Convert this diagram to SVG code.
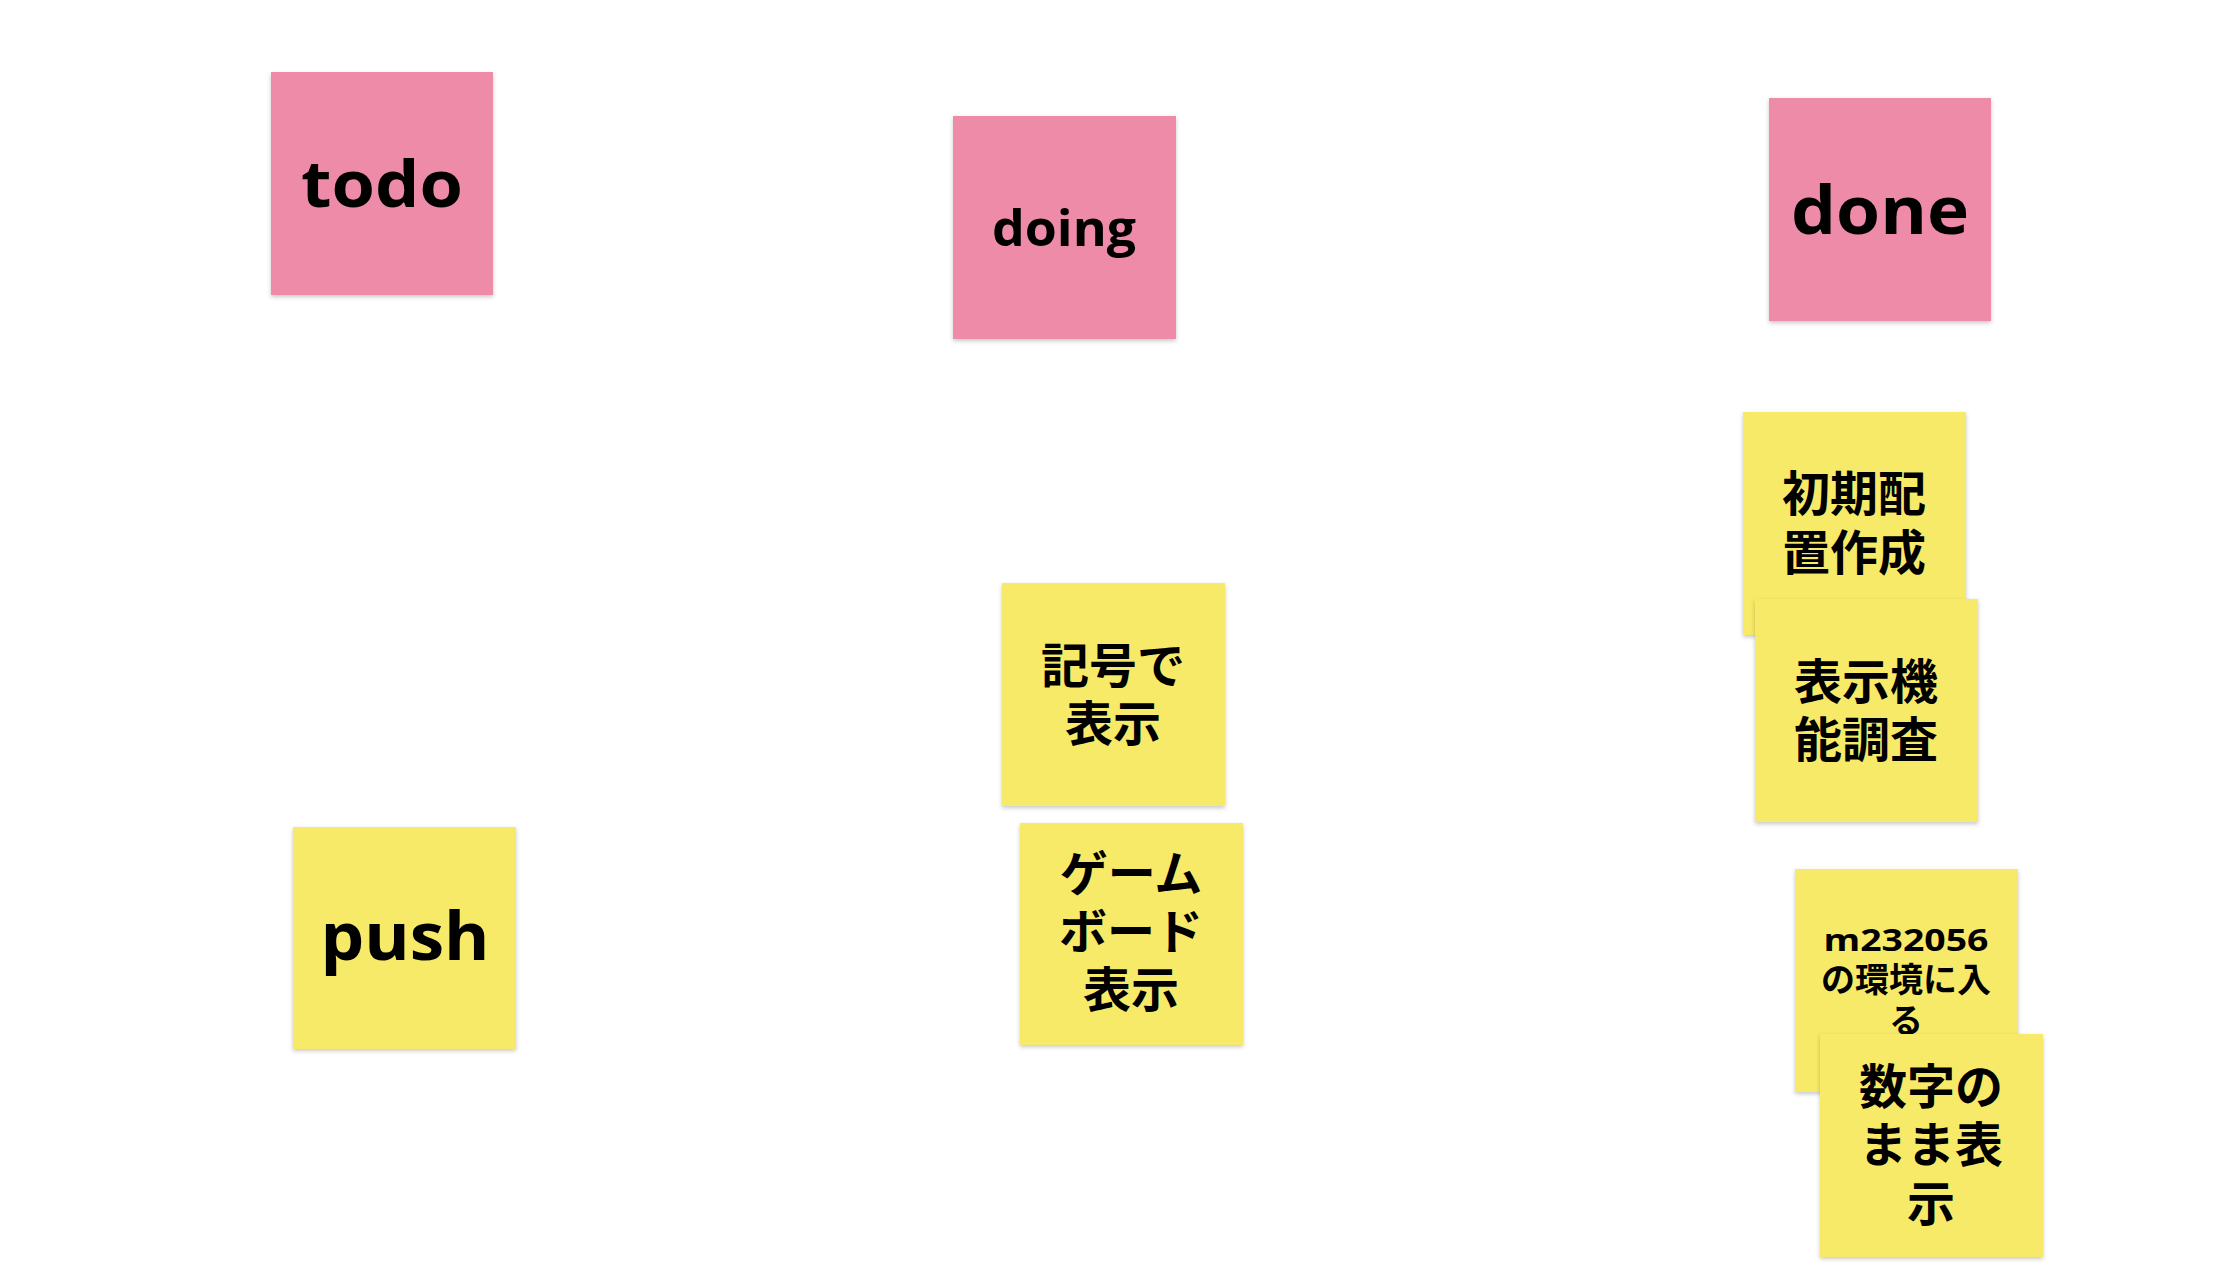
<svg xmlns="http://www.w3.org/2000/svg" width="2217" height="1265" viewBox="0 0 2217 1265">
<style>
.pink{fill:#EE8BA9;filter:url(#sh);}
.yel{fill:#F7EA67;filter:url(#sh);}
.lat{font-family:"Open Sans","Liberation Sans",sans-serif;font-weight:700;fill:#000;text-anchor:middle;}
.jp{font-family:"Noto Sans CJK JP",sans-serif;font-weight:700;fill:#000;text-anchor:middle;font-size:48px;}
</style>
<defs>
<filter id="sh" x="-10%" y="-10%" width="120%" height="125%">
<feDropShadow dx="0" dy="2" stdDeviation="2" flood-color="#000" flood-opacity="0.22"/>
</filter>
</defs>
<rect width="2217" height="1265" fill="#fff"/>
<g id="todo">
<rect class="pink" x="271" y="72" width="222" height="223"/>
<text class="lat" x="382" y="207" font-size="64" textLength="162" lengthAdjust="spacingAndGlyphs">todo</text>
</g>
<g id="doing">
<rect class="pink" x="953" y="116" width="223" height="223"/>
<text class="lat" x="1064" y="246" font-size="50" textLength="144" lengthAdjust="spacingAndGlyphs">doing</text>
</g>
<g id="done">
<rect class="pink" x="1769" y="98" width="222" height="223"/>
<text class="lat" x="1880" y="234" font-size="66" textLength="178" lengthAdjust="spacingAndGlyphs">done</text>
</g>
<g id="push">
<rect class="yel" x="293" y="827" width="223" height="222"/>
<text class="lat" x="405" y="960" font-size="66" textLength="169" lengthAdjust="spacingAndGlyphs">push</text>
</g>
<g id="kigou">
<rect class="yel" x="1002" y="583" width="223" height="223"/>
<text class="jp"><tspan x="1113" y="683">記号で</tspan><tspan x="1113" y="741">表示</tspan></text>
</g>
<g id="gameboard">
<rect class="yel" x="1020" y="823" width="223" height="222"/>
<text class="jp"><tspan x="1131" y="891">ゲーム</tspan><tspan x="1131" y="949">ボード</tspan><tspan x="1131" y="1007">表示</tspan></text>
</g>
<g id="shokihaichi">
<rect class="yel" x="1743" y="412" width="223" height="223"/>
<text class="jp"><tspan x="1854" y="511">初期配</tspan><tspan x="1854" y="570">置作成</tspan></text>
</g>
<g id="hyoujikinou">
<rect class="yel" x="1755" y="599" width="223" height="223"/>
<text class="jp"><tspan x="1866" y="699">表示機</tspan><tspan x="1866" y="757">能調査</tspan></text>
</g>
<g id="m232056">
<rect class="yel" x="1795" y="869" width="223" height="223"/>
<text class="jp" style="font-size:34px"><tspan class="lat" x="1906" y="951" style="font-size:31px" textLength="165" lengthAdjust="spacingAndGlyphs">m232056</tspan><tspan x="1906" y="992">の環境に入</tspan><tspan x="1906" y="1033">る</tspan></text>
</g>
<g id="suuji">
<rect class="yel" x="1820" y="1034" width="223" height="223"/>
<text class="jp"><tspan x="1931" y="1104">数字の</tspan><tspan x="1931" y="1162">まま表</tspan><tspan x="1931" y="1221">示</tspan></text>
</g>
<g id="connectors"/>
</svg>
